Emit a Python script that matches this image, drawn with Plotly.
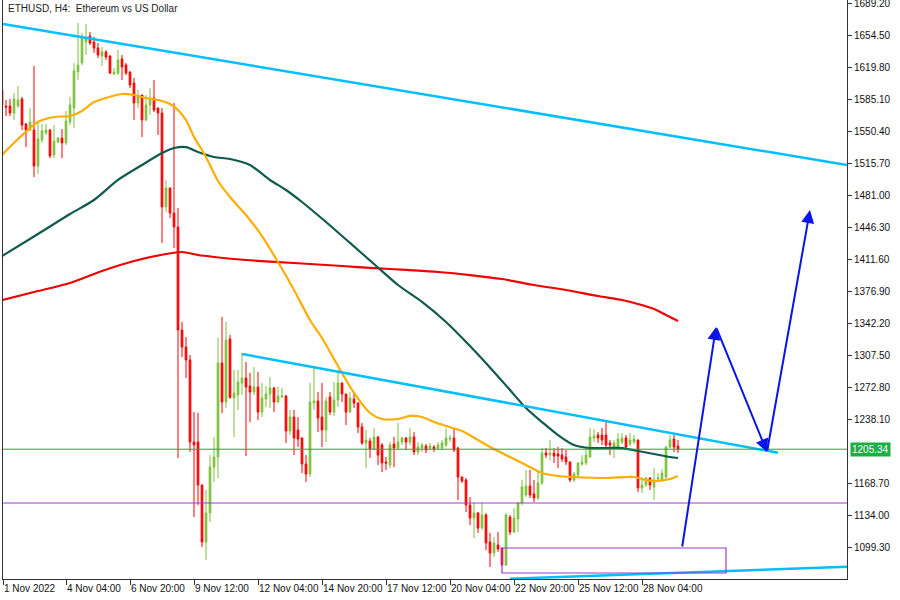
import pandas as pd
import plotly.graph_objects as go

# ---------------- data (ETHUSD, H4) ----------------
first_bar = "2022-11-01 12:00"
n_bars = 170

opens = [
    1594.9, 1577.5, 1577.5, 1569.9, 1577.5, 1585.1, 1558.0, 1551.5, 1551.5, 1512.4,
    1540.6, 1548.2, 1551.5, 1524.4, 1538.5, 1542.8, 1537.4, 1560.2, 1575.3, 1614.4,
    1624.1, 1646.9, 1653.4, 1646.9, 1640.4, 1631.7, 1636.1, 1631.7, 1612.2, 1613.3,
    1628.5, 1622.0, 1614.4, 1602.4, 1580.8, 1589.4, 1562.3, 1578.6, 1586.2, 1575.3,
    1569.9, 1468.0, 1488.6, 1461.5, 1446.3, 1334.6, 1316.2, 1302.1, 1213.1, 1213.1,
    1166.5, 1104.7, 1136.2, 1186.0, 1196.9, 1298.8, 1256.5, 1324.8, 1260.9, 1264.1,
    1277.1, 1282.5, 1273.9, 1267.4, 1272.8, 1245.7, 1259.8, 1265.2, 1271.7, 1256.5,
    1262.0, 1263.0, 1225.1, 1240.3, 1226.2, 1217.5, 1189.3, 1178.4, 1255.4, 1257.6,
    1240.3, 1226.2, 1262.0, 1245.7, 1258.7, 1277.1, 1265.2, 1245.7, 1259.8, 1255.4,
    1229.4, 1212.1, 1214.2, 1205.6, 1218.6, 1209.9, 1191.5, 1188.2, 1211.0, 1206.6,
    1213.1, 1217.5, 1213.1, 1218.6, 1202.3, 1206.6, 1208.8, 1206.6, 1207.7, 1206.6,
    1206.6, 1209.9, 1216.4, 1217.5, 1206.6, 1175.2, 1171.9, 1144.8, 1130.7, 1136.2,
    1119.9, 1134.0, 1104.7, 1092.8, 1101.5, 1098.2, 1079.8, 1131.8, 1115.5, 1129.6,
    1147.0, 1155.7, 1165.4, 1156.8, 1152.4, 1168.7, 1201.2, 1199.0, 1201.2, 1200.1,
    1199.0, 1196.9, 1191.5, 1171.9, 1177.4, 1189.3, 1190.4, 1196.9, 1217.5, 1220.7,
    1220.7, 1220.7, 1212.1, 1207.7, 1207.7, 1213.1, 1217.5, 1211.0, 1213.1, 1215.3,
    1163.3, 1166.5, 1174.1, 1164.3, 1173.0, 1171.9, 1175.2, 1207.7, 1216.4, 1208.8,
]
highs = [
    1597.0, 1584.0, 1585.1, 1591.6, 1599.2, 1587.3, 1559.0, 1575.3, 1620.9, 1559.1,
    1558.0, 1558.0, 1552.6, 1556.9, 1543.9, 1552.6, 1572.1, 1587.3, 1624.1, 1667.5,
    1656.7, 1666.4, 1657.8, 1652.3, 1645.8, 1641.5, 1638.2, 1632.5, 1618.7, 1638.2,
    1632.8, 1624.1, 1615.0, 1607.9, 1594.9, 1590.0, 1589.4, 1597.0, 1605.7, 1576.0,
    1575.3, 1497.3, 1489.0, 1580.8, 1466.9, 1343.3, 1327.0, 1307.5, 1245.7, 1244.6,
    1167.0, 1161.1, 1199.0, 1218.6, 1325.9, 1348.7, 1343.3, 1329.2, 1291.2, 1291.2,
    1309.7, 1299.9, 1288.0, 1294.5, 1289.1, 1277.1, 1273.9, 1283.6, 1272.8, 1272.8,
    1271.7, 1264.1, 1247.9, 1247.9, 1240.3, 1218.0, 1199.0, 1277.1, 1294.5, 1267.4,
    1277.1, 1262.0, 1267.4, 1278.2, 1291.2, 1277.6, 1265.7, 1267.4, 1267.4, 1256.0,
    1233.8, 1226.2, 1217.5, 1228.3, 1219.7, 1212.1, 1196.9, 1213.1, 1218.6, 1233.8,
    1219.0, 1218.6, 1228.3, 1224.0, 1213.1, 1212.1, 1211.0, 1212.1, 1209.9, 1213.1,
    1215.3, 1228.3, 1220.7, 1228.3, 1207.7, 1175.7, 1174.1, 1153.5, 1147.0, 1137.2,
    1147.0, 1136.2, 1114.5, 1110.1, 1115.5, 1098.7, 1136.2, 1134.0, 1141.6, 1148.0,
    1171.9, 1182.8, 1182.8, 1171.9, 1182.8, 1206.6, 1206.6, 1215.3, 1206.6, 1207.7,
    1206.6, 1204.5, 1192.0, 1180.6, 1191.5, 1199.0, 1207.7, 1228.3, 1227.2, 1224.0,
    1228.3, 1234.8, 1215.3, 1215.3, 1222.9, 1222.9, 1220.7, 1222.9, 1220.7, 1215.8,
    1175.2, 1175.2, 1175.2, 1184.9, 1179.5, 1183.9, 1209.0, 1220.7, 1220.7, 1215.3,
]
lows = [
    1562.3, 1566.7, 1566.7, 1562.3, 1575.3, 1551.5, 1533.0, 1550.5, 1500.5, 1503.8,
    1537.4, 1546.1, 1521.1, 1521.1, 1537.4, 1521.1, 1535.2, 1556.9, 1553.6, 1605.7,
    1622.0, 1632.8, 1643.7, 1635.0, 1629.6, 1620.9, 1627.4, 1612.2, 1611.1, 1611.1,
    1605.7, 1611.1, 1597.0, 1562.3, 1575.3, 1543.9, 1561.2, 1567.7, 1571.0, 1546.1,
    1428.9, 1462.6, 1456.1, 1423.5, 1195.8, 1305.3, 1282.5, 1202.3, 1131.8, 1144.8,
    1099.3, 1085.2, 1126.4, 1169.8, 1174.1, 1244.6, 1250.0, 1260.0, 1218.6, 1247.9,
    1264.1, 1197.9, 1234.8, 1264.1, 1237.0, 1240.3, 1251.1, 1250.0, 1245.7, 1255.4,
    1260.9, 1212.1, 1220.7, 1199.0, 1207.7, 1179.5, 1169.8, 1175.2, 1247.9, 1224.0,
    1207.7, 1213.1, 1242.4, 1241.4, 1251.1, 1256.5, 1231.6, 1244.6, 1250.0, 1222.9,
    1209.9, 1184.9, 1195.8, 1204.5, 1188.2, 1180.6, 1182.8, 1184.9, 1186.0, 1204.5,
    1209.9, 1204.5, 1209.9, 1199.0, 1199.0, 1202.3, 1201.2, 1204.5, 1202.3, 1204.5,
    1204.5, 1207.7, 1213.1, 1202.3, 1150.3, 1168.7, 1137.2, 1123.1, 1109.0, 1114.5,
    1117.7, 1096.0, 1077.6, 1088.4, 1093.9, 1079.0, 1078.7, 1112.3, 1114.5, 1115.5,
    1144.8, 1153.5, 1152.4, 1148.1, 1150.3, 1166.5, 1195.8, 1193.6, 1190.4, 1184.9,
    1191.5, 1188.2, 1169.8, 1169.8, 1175.2, 1187.1, 1188.2, 1195.8, 1213.1, 1212.1,
    1209.9, 1206.6, 1199.0, 1195.8, 1205.6, 1211.0, 1204.5, 1208.8, 1211.0, 1158.9,
    1157.9, 1164.3, 1161.1, 1150.3, 1169.8, 1169.8, 1171.9, 1206.6, 1202.3, 1201.2,
]
closes = [
    1578.6, 1576.4, 1569.9, 1585.1, 1584.0, 1556.9, 1551.5, 1560.2, 1512.4, 1541.7,
    1550.4, 1551.5, 1523.3, 1539.5, 1542.8, 1537.4, 1561.2, 1578.6, 1615.5, 1622.0,
    1653.4, 1651.2, 1645.8, 1640.4, 1632.8, 1636.1, 1630.6, 1613.3, 1614.4, 1627.4,
    1619.8, 1613.3, 1600.3, 1580.8, 1587.3, 1562.3, 1578.6, 1586.2, 1573.2, 1569.9,
    1468.0, 1488.6, 1461.5, 1446.3, 1334.6, 1316.2, 1302.1, 1213.1, 1209.9, 1166.5,
    1104.7, 1136.2, 1186.0, 1196.9, 1298.8, 1256.5, 1323.8, 1261.5, 1266.3, 1278.2,
    1282.5, 1272.8, 1267.4, 1272.8, 1245.7, 1260.9, 1265.2, 1271.7, 1256.5, 1263.0,
    1263.0, 1225.1, 1240.3, 1217.5, 1216.4, 1189.3, 1178.4, 1256.5, 1257.6, 1239.2,
    1226.2, 1257.6, 1245.7, 1258.7, 1277.1, 1265.2, 1245.7, 1260.9, 1255.4, 1229.4,
    1212.1, 1215.3, 1205.6, 1218.6, 1199.0, 1190.4, 1190.4, 1209.9, 1206.6, 1213.1,
    1217.5, 1213.1, 1218.6, 1202.3, 1207.7, 1209.9, 1204.5, 1208.8, 1205.6, 1209.9,
    1212.1, 1217.5, 1217.5, 1204.5, 1175.2, 1170.9, 1144.8, 1130.7, 1136.2, 1119.9,
    1134.0, 1103.6, 1092.8, 1103.6, 1097.1, 1079.8, 1134.0, 1115.5, 1130.7, 1147.0,
    1164.3, 1165.4, 1155.7, 1152.4, 1168.7, 1201.2, 1199.0, 1201.2, 1197.9, 1197.9,
    1194.7, 1191.5, 1171.9, 1178.4, 1190.4, 1191.5, 1199.0, 1218.6, 1219.7, 1217.5,
    1215.3, 1209.9, 1209.9, 1212.1, 1216.4, 1217.5, 1207.7, 1215.3, 1216.4, 1163.3,
    1166.5, 1174.1, 1166.5, 1171.9, 1174.1, 1179.5, 1207.7, 1215.3, 1207.7, 1205.34,
]

# moving averages (bar index from first bar, value)
ma_fast_bar = [0, 4, 9, 13, 17, 20, 23, 26, 30, 33, 36, 39, 42, 44, 46, 48, 50, 52, 54, 57,
               61, 65, 69, 73, 77, 80, 84, 88, 92, 95, 99, 102, 105, 108, 111, 115, 119, 123, 127, 131,
               135, 139, 143, 151, 158, 161, 164, 167, 169]
ma_fast_val = [1524.4, 1541.7, 1560.2, 1565.6, 1566.7, 1572.1, 1581.8, 1586.2, 1590.5, 1589.4,
               1586.2, 1584.0, 1579.7, 1573.2, 1562.3, 1543.9, 1529.8, 1513.5, 1496.2, 1478.8,
               1459.3, 1436.5, 1408.3, 1378.0, 1345.4, 1325.9, 1295.6, 1266.3, 1244.6, 1238.1,
               1238.1, 1241.4, 1240.3, 1234.8, 1230.5, 1225.1, 1215.3, 1205.6, 1196.9, 1188.2,
               1179.5, 1176.3, 1175.2, 1174.1, 1175.2, 1171.9, 1170.9, 1173.0, 1176.3]
ma_mid_bar = [0, 9, 17, 23, 29, 35, 40, 43, 46, 49, 53, 57, 62, 67, 71, 75, 81, 87, 93, 99,
              105, 111, 117, 123, 127, 131, 135, 139, 143, 147, 151, 155, 159, 163, 167, 169]
ma_mid_val = [1414.8, 1438.7, 1460.4, 1475.6, 1497.3, 1513.5, 1526.5, 1532.0, 1533.0, 1527.6,
              1522.2, 1520.0, 1513.5, 1497.3, 1486.4, 1473.4, 1451.7, 1429.0, 1406.2, 1383.4,
              1365.0, 1343.3, 1317.2, 1289.1, 1269.5, 1250.0, 1234.8, 1220.7, 1209.9, 1206.6,
              1206.6, 1206.6, 1203.4, 1200.1, 1196.9, 1195.8]
ma_slow_bar = [0, 9, 17, 25, 33, 41, 45, 49, 53, 61, 69, 77, 85, 93, 101, 109, 117, 125, 133, 141,
               149, 155, 159, 163, 166, 169]
ma_slow_val = [1367.1, 1376.9, 1385.6, 1398.6, 1409.4, 1417.0, 1419.2, 1415.9, 1413.8, 1410.5,
               1408.3, 1406.2, 1404.0, 1401.8, 1399.7, 1397.5, 1394.2, 1389.9, 1383.4, 1378.0,
               1371.5, 1367.1, 1362.8, 1357.4, 1350.9, 1344.4]

# drawn objects (time, price)
upper_channel = [("2022-11-01 13:00", 1666.4), ("2022-12-06 17:00", 1513.5)]
lower_trend = [("2022-11-11 12:00", 1308.6), ("2022-12-03 20:00", 1201.5)]
bottom_trend = [("2022-11-22 16:00", 1064.9), ("2022-12-06 17:00", 1077.9)]
support_level = 1147.0
last_price = 1205.34
demand_zone = [("2022-11-22 08:00", 1098.2), ("2022-12-01 16:00", 1071.1)]
forecast_path = [("2022-11-29 20:00", 1098.2), ("2022-12-01 06:00", 1337.9),
                 ("2022-12-03 09:00", 1202.3), ("2022-12-05 04:00", 1464.7)]

x_range = ["2022-11-01 13:00", "2022-12-06 17:00"]
y_range = [1064.6, 1692.45]
x_tick_vals = ["2022-11-01 13:00", "2022-11-04 04:00", "2022-11-06 20:00", "2022-11-09 12:00",
               "2022-11-12 04:00", "2022-11-14 20:00", "2022-11-17 12:00", "2022-11-20 04:00",
               "2022-11-22 20:00", "2022-11-25 12:00", "2022-11-28 04:00"]
x_tick_text = ["1 Nov 2022", "4 Nov 04:00", "6 Nov 20:00", "9 Nov 12:00", "12 Nov 04:00",
               "14 Nov 20:00", "17 Nov 12:00", "20 Nov 04:00", "22 Nov 20:00", "25 Nov 12:00",
               "28 Nov 04:00"]
y_tick_vals = [1689.20, 1654.50, 1619.80, 1585.10, 1550.40, 1515.70, 1481.00, 1446.30, 1411.60,
               1376.90, 1342.20, 1307.50, 1272.80, 1238.10, 1168.70, 1134.00, 1099.30]

# ---------------- figure ----------------
times = pd.date_range(first_bar, periods=n_bars, freq="4h")
FONT = "Liberation Sans, Arial, sans-serif"

fig = go.Figure()
fig.add_trace(go.Candlestick(
    x=times, open=opens, high=highs, low=lows, close=closes,
    increasing=dict(line=dict(color="#7dc03c", width=1), fillcolor="#7dc03c"),
    decreasing=dict(line=dict(color="#ff0000", width=1), fillcolor="#ff0000"),
    whiskerwidth=0, hoverinfo="skip", showlegend=False,
))

for bars, vals, col in [(ma_slow_bar, ma_slow_val, "#f00000"),
                        (ma_mid_bar, ma_mid_val, "#0f5a4c"),
                        (ma_fast_bar, ma_fast_val, "#ffad00")]:
    fig.add_trace(go.Scatter(
        x=[times[i] for i in bars], y=vals, mode="lines",
        line=dict(color=col, width=2.2, shape="spline", smoothing=0.8),
        hoverinfo="skip", showlegend=False,
    ))

shapes = []
for seg in (upper_channel, lower_trend, bottom_trend):
    shapes.append(dict(type="line", xref="x", yref="y",
                       x0=seg[0][0], y0=seg[0][1], x1=seg[1][0], y1=seg[1][1],
                       line=dict(color="#00bfff", width=2.5)))
shapes.append(dict(type="line", xref="paper", yref="y", x0=0, x1=1,
                   y0=last_price, y1=last_price, line=dict(color="#17a943", width=1)))
shapes.append(dict(type="line", xref="paper", yref="y", x0=0, x1=1,
                   y0=support_level, y1=support_level, line=dict(color="#9b3ad0", width=1)))
shapes.append(dict(type="rect", xref="x", yref="y",
                   x0=demand_zone[0][0], y0=demand_zone[0][1],
                   x1=demand_zone[1][0], y1=demand_zone[1][1],
                   line=dict(color="#9b3ad0", width=1.2), fillcolor="rgba(0,0,0,0)"))

annotations = []
for (t0, p0), (t1, p1) in zip(forecast_path[:-1], forecast_path[1:]):
    annotations.append(dict(x=t1, y=p1, ax=t0, ay=p0, xref="x", yref="y", axref="x", ayref="y",
                            showarrow=True, arrowhead=2, arrowsize=1.3, arrowwidth=2,
                            arrowcolor="#0a14e6", text=""))
annotations.append(dict(x=0, y=1, xref="paper", yref="paper", xanchor="left", yanchor="top",
                        xshift=3, yshift=-1, showarrow=False,
                        text="ETHUSD, H4:&nbsp; Ethereum vs US Dollar",
                        font=dict(family=FONT, size=10, color="#222222")))
annotations.append(dict(x=1, y=last_price, xref="paper", yref="y", xanchor="left",
                        yanchor="middle", xshift=3, showarrow=False, text="1205.34",
                        bgcolor="#17b043", borderpad=1,
                        font=dict(family=FONT, size=10, color="white")))

fig.update_layout(
    width=900, height=600,
    margin=dict(l=3, r=53, t=0, b=21, autoexpand=False),
    paper_bgcolor="white", plot_bgcolor="white",
    boxgap=0.4,
    shapes=shapes, annotations=annotations,
    font=dict(family=FONT, size=10, color="#111111"),
    xaxis=dict(type="date", range=x_range, rangeslider=dict(visible=False),
               showgrid=False, zeroline=False, showline=True, linecolor="#333333", linewidth=1,
               ticks="outside", ticklen=5, tickcolor="#333333", tickangle=0,
               tickvals=x_tick_vals, ticktext=x_tick_text, automargin=False,
               ticklabelposition="outside right", ticklabelstandoff=0, fixedrange=True),
    yaxis=dict(range=y_range, side="right", showgrid=False, zeroline=False,
               showline=True, mirror=True, linecolor="#333333", linewidth=1,
               ticks="outside", ticklen=4, tickcolor="#333333", automargin=False,
               ticklabeloverflow="allow",
               tickvals=y_tick_vals, ticktext=[f"{v:.2f}" for v in y_tick_vals],
               fixedrange=True),
)

fig.write_html("out.html", config={"displayModeBar": False},
               post_script="document.body.style.margin='0px';document.body.style.overflow='hidden';")
